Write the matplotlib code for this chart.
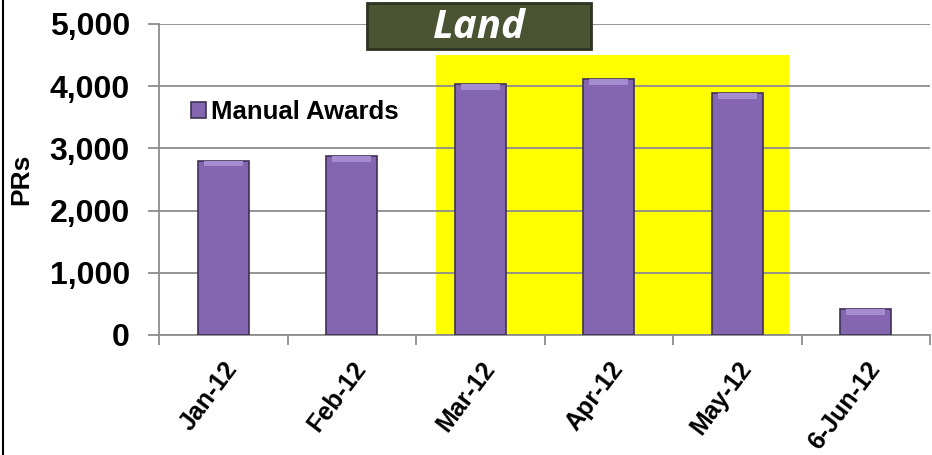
import matplotlib.pyplot as plt
import matplotlib.transforms as mtransforms
from matplotlib.patches import Rectangle, FancyBboxPatch

months = ['Jan-12', 'Feb-12', 'Mar-12', 'Apr-12', 'May-12', '6-Jun-12']
manual_awards = [2800, 2870, 4030, 4110, 3890, 410]
highlight_months = ['Mar-12', 'May-12']
highlight_top = 4500

plt.rcParams['font.family'] = ['Liberation Sans', 'DejaVu Sans']

fig = plt.figure(figsize=(9.32, 4.55), dpi=100)
ax = fig.add_axes([159 / 932, 120 / 455, 771 / 932, 311 / 455])

x = list(range(len(months)))

# yellow highlight band behind the Mar-May bars
i0 = months.index(highlight_months[0])
i1 = months.index(highlight_months[1])
ax.add_patch(Rectangle((i0 - 0.344, 0), (i1 - i0) + 0.744, highlight_top,
                       facecolor='#ffff00', edgecolor='none', zorder=0.5))

ax.bar(x, manual_awards, width=0.4, color='#8466b0', edgecolor='#3f3157',
       linewidth=1.2, label='Manual Awards', zorder=3)
# lighter top face for a bit of bevel
ax.bar(x, [min(v, 90) for v in manual_awards],
       bottom=[v - min(v, 90) for v in manual_awards],
       width=0.3, color='#a58bd0', edgecolor='none', zorder=4)

ax.set_xlim(-0.5, len(months) - 0.5)
ax.set_ylim(0, 5000)
ax.set_yticks([0, 1000, 2000, 3000, 4000, 5000])
ax.set_yticklabels(['0', '1,000', '2,000', '3,000', '4,000', '5,000'],
                   fontsize=23, fontweight='bold')
ax.yaxis.grid(True, color='#8c8c8c', linewidth=1.3, zorder=1)
ax.set_axisbelow(True)

ax.set_xticks([i - 0.5 for i in range(len(months) + 1)], minor=False)
ax.set_xticklabels([''] * (len(months) + 1))
ax.set_xticks(x, minor=True)
ax.set_xticklabels(months, minor=True, rotation=53, ha='right',
                   rotation_mode='anchor', fontsize=18, fontweight='bold')
shift = mtransforms.ScaledTranslation(5 / 100, 0, fig.dpi_scale_trans)
for lbl in ax.get_xticklabels(minor=True):
    lbl.set_transform(lbl.get_transform() + shift)
ax.tick_params(axis='x', which='minor', length=0, pad=16)
ax.tick_params(axis='x', which='major', length=7, color='#8c8c8c', width=1.3)
ax.tick_params(axis='y', length=8, color='#8c8c8c', width=1.3, pad=13)

for side in ['top', 'right']:
    ax.spines[side].set_visible(False)
for side in ['left', 'bottom']:
    ax.spines[side].set_color('#8c8c8c')
    ax.spines[side].set_linewidth(1.3)

ax.set_ylabel('PRs', fontsize=19, fontweight='bold')
ax.yaxis.set_label_coords(-0.163, 0.5)

leg = ax.legend(loc='center left', bbox_to_anchor=(0.042, 0.717), frameon=False,
                prop={'size': 18.5, 'weight': 'bold'}, handlelength=0.55,
                handleheight=0.55, handletextpad=0.2, borderpad=0,
                borderaxespad=0)

# title box
box = FancyBboxPatch((367 / 932, 1 - 49 / 455), 224 / 932, 46 / 455,
                     boxstyle='square,pad=0', transform=fig.transFigure,
                     facecolor='#4a5332', edgecolor='#2d3320', linewidth=2)
fig.patches.append(box)
fig.text(479 / 932, 1 - 27 / 455, 'Land', color='white', fontsize=29,
         fontweight='bold', style='italic', ha='center', va='center',
         family=['Open Sans', 'DejaVu Sans'])

# left frame line
fig.add_artist(plt.Line2D([2.5 / 932, 2.5 / 932], [0, 1], color='black',
                          linewidth=1.5, transform=fig.transFigure))

fig.savefig('out.png', dpi=100)
